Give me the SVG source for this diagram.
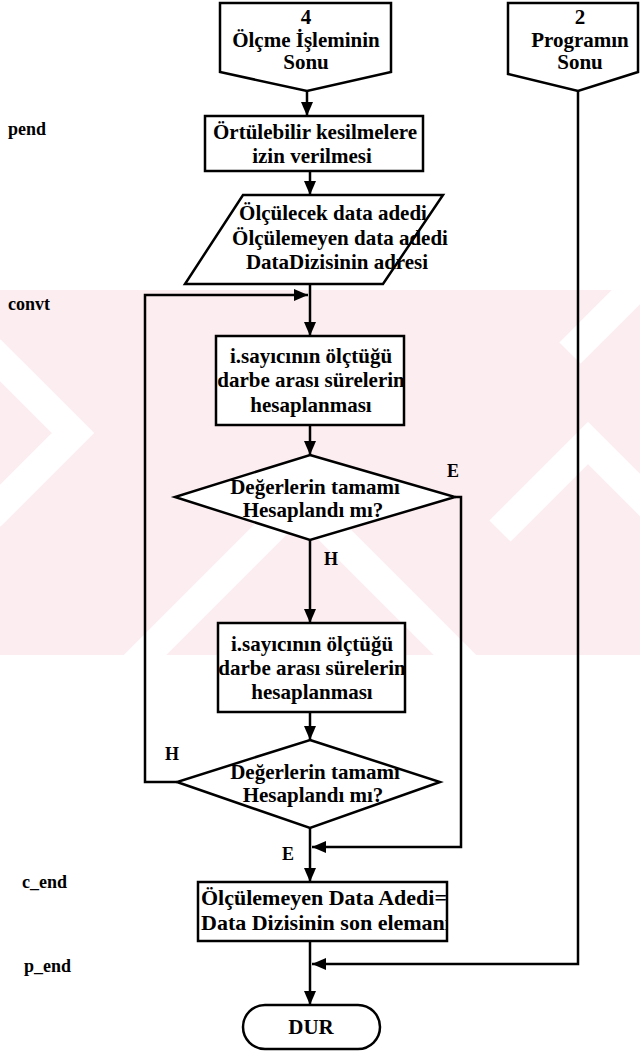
<svg xmlns="http://www.w3.org/2000/svg" width="640" height="1054" viewBox="0 0 640 1054">
  <defs>
    <style>
      .box { fill: #fff; stroke: #000; stroke-width: 2.5; }
      .wire { fill: none; stroke: #000; stroke-width: 2.5; }
      text { font-family: "Liberation Serif", Tinos, "Times New Roman", "DejaVu Serif", "Noto Serif", serif; font-weight: bold; fill: #000; }
      .t { font-size: 21px; text-anchor: middle; }
      .tl { font-size: 22px; }
      .lab { font-size: 18px; }
      .wm { fill: none; stroke: #fff; stroke-width: 30; }
    </style>
    <marker id="ah" viewBox="0 0 14 12" refX="14" refY="6" markerWidth="14" markerHeight="12" markerUnits="userSpaceOnUse" orient="auto">
      <path d="M0,0 L14,6 L0,12 z" fill="#000"/>
    </marker>
    <clipPath id="bandclip">
      <rect x="0" y="290" width="640" height="365"/>
    </clipPath>
    <clipPath id="clip5">
      <rect x="198" y="882" width="249" height="59"/>
    </clipPath>
  </defs>

  <rect x="0" y="0" width="640" height="1054" fill="#fff"/>

  <!-- background band with light chevron stripes -->
  <g id="background">
    <rect x="0" y="290" width="640" height="365" fill="#fcedf0"/>
    <g clip-path="url(#bandclip)">
      <polyline class="wm" points="-10,350 73,433 -10,516"/>
      <polyline class="wm" points="500,531 588,443 680,535"/>
      <polyline class="wm" points="570,353 640,283"/>
      <polyline class="wm" points="120,680 300,500 480,680"/>
    </g>
  </g>

  <!-- connectors -->
  <g id="connectors">
    <line class="wire" x1="307" y1="91" x2="307" y2="116" marker-end="url(#ah)"/>
    <line class="wire" x1="310" y1="171" x2="310" y2="195" marker-end="url(#ah)"/>
    <line class="wire" x1="310" y1="284" x2="310" y2="336" marker-end="url(#ah)"/>
    <polyline class="wire" points="177,782 145,782 145,295 308,295" marker-end="url(#ah)"/>
    <line class="wire" x1="310" y1="425" x2="310" y2="455" marker-end="url(#ah)"/>
    <line class="wire" x1="310" y1="540" x2="310" y2="623" marker-end="url(#ah)"/>
    <polyline class="wire" points="455,497 461,497 461,847 312,847" marker-end="url(#ah)"/>
    <line class="wire" x1="310" y1="712" x2="310" y2="740" marker-end="url(#ah)"/>
    <line class="wire" x1="310" y1="828" x2="310" y2="882" marker-end="url(#ah)"/>
    <line class="wire" x1="310" y1="941" x2="310" y2="1005" marker-end="url(#ah)"/>
    <polyline class="wire" points="578,91 578,964 312,964" marker-end="url(#ah)"/>
    <text class="lab" x="447" y="477">E</text>
    <text class="lab" x="324" y="565">H</text>
    <text class="lab" x="165" y="760">H</text>
    <text class="lab" x="282" y="860">E</text>
  </g>

  <!-- side labels -->
  <g id="labels">
    <text class="lab" x="8" y="135">pend</text>
    <text class="lab" x="8" y="310">convt</text>
    <text class="lab" x="22" y="888">c_end</text>
    <text class="lab" x="24" y="972">p_end</text>
  </g>

  <g id="conn-4">
    <polygon class="box" points="220,3 391,3 391,72 307,91 220,72"/>
    <text class="t" x="306" y="24">4</text>
    <text class="t" x="306" y="47">Ölçme İşleminin</text>
    <text class="t" x="306" y="69">Sonu</text>
  </g>

  <g id="conn-2">
    <polygon class="box" points="508,3 638,3 638,72 578,91 508,74"/>
    <text class="t" x="580" y="24">2</text>
    <text class="t" x="580" y="47">Programın</text>
    <text class="t" x="580" y="69">Sonu</text>
  </g>

  <g id="enable-int">
    <rect class="box" x="205" y="116" width="218" height="55"/>
    <text class="t" x="315" y="139">Örtülebilir kesilmelere</text>
    <text class="t" x="312" y="163">izin verilmesi</text>
  </g>

  <g id="data-io">
    <polygon class="box" points="243,195 443,195 383,284 185,284"/>
    <text class="t" x="333" y="220">Ölçülecek data adedi</text>
    <text class="t" x="340" y="245">Ölçülemeyen data adedi</text>
    <text class="t" x="337" y="269">DataDizisinin adresi</text>
  </g>

  <g id="calc-1">
    <rect class="box" x="216" y="336" width="188" height="89"/>
    <text class="t" x="311" y="363">i.sayıcının ölçtüğü</text>
    <text class="t" x="311" y="387">darbe arası sürelerin</text>
    <text class="t" x="311" y="412">hesaplanması</text>
  </g>

  <g id="check-1">
    <polygon class="box" points="310,455 455,497 310,540 175,497"/>
    <text class="t" x="315" y="494">Değerlerin tamamı</text>
    <text class="t" x="313" y="517">Hesaplandı mı?</text>
  </g>

  <g id="calc-2">
    <rect class="box" x="218" y="623" width="187" height="89"/>
    <text class="t" x="312" y="651">i.sayıcının ölçtüğü</text>
    <text class="t" x="312" y="675">darbe arası sürelerin</text>
    <text class="t" x="312" y="699">hesaplanması</text>
  </g>

  <g id="check-2">
    <polygon class="box" points="310,740 440,782 310,828 177,782"/>
    <text class="t" x="315" y="779">Değerlerin tamamı</text>
    <text class="t" x="313" y="802">Hesaplandı mı?</text>
  </g>

  <g id="store-count">
    <rect class="box" x="198" y="882" width="249" height="59"/>
    <g clip-path="url(#clip5)">
      <text class="tl" x="201" y="905">Ölçülemeyen Data Adedi=</text>
      <text class="tl" x="201" y="930">Data Dizisinin son elemanı</text>
    </g>
  </g>

  <g id="stop">
    <rect class="box" x="243" y="1005" width="137" height="44" rx="22" ry="22"/>
    <text class="t" x="311" y="1034">DUR</text>
  </g>
</svg>
